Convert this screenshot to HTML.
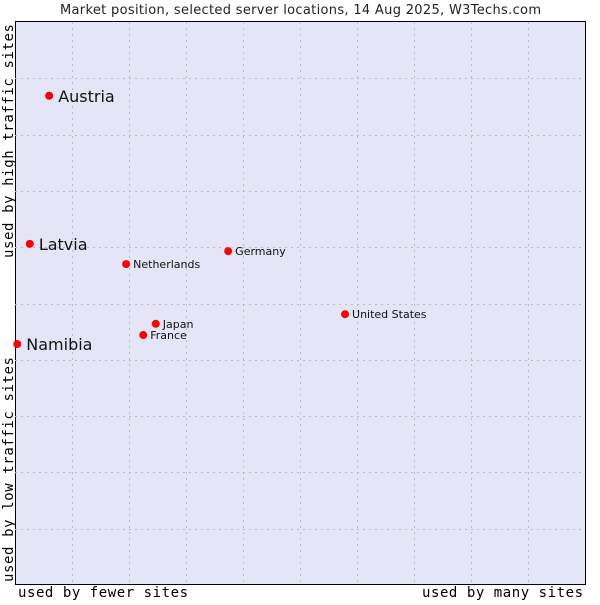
<!DOCTYPE html>
<html><head><meta charset="utf-8"><style>
body{margin:0;background:#fff;width:600px;height:600px;overflow:hidden}
svg{font-family:"DejaVu Sans","Liberation Sans",sans-serif}
</style></head><body>
<svg width="600" height="600">
<text x="60" y="14" textLength="481" font-size="13" fill="#222">Market position, selected server locations, 14 Aug 2025, W3Techs.com</text>
<rect x="15.5" y="21.5" width="570" height="563" fill="#e4e6f8" stroke="#000"/>
<g id="grid"></g>
<g id="pts"></g>
<text x="18" y="597" textLength="170" font-family="DejaVu Sans Mono,monospace" font-size="14">used by fewer sites</text>
<text x="422" y="597" textLength="161" font-family="DejaVu Sans Mono,monospace" font-size="14">used by many sites</text>
<text transform="translate(13,582) rotate(-90)" textLength="225" font-family="DejaVu Sans Mono,monospace" font-size="14">used by low traffic sites</text>
<text transform="translate(13,258) rotate(-90)" textLength="234" font-family="DejaVu Sans Mono,monospace" font-size="14">used by high traffic sites</text>
</svg>
<script>
const names=["Austria","Latvia","Namibia","Netherlands","Germany","United States","Japan","France"];
const xs=[0.6,0.26,0.04,1.95,3.74,5.79,2.47,2.25];
const ys=[8.69,6.06,4.28,5.70,5.93,4.81,4.64,4.44];
const big=[true,true,true,false,false,false,false,false];
const X0=15,X1=585,Y0=585,Y1=22;
const sx=v=>X0+v/10*(X1-X0), sy=v=>Y0-v/10*(Y0-Y1);
const NS="http://www.w3.org/2000/svg";
const g=document.getElementById('grid');
for(let i=1;i<10;i++){
 let l=document.createElementNS(NS,'line');
 
 
 let x=Math.round(sx(i))+0.5;
 l.setAttribute('x1',x);l.setAttribute('x2',x);l.setAttribute('y1',Y1);l.setAttribute('y2',Y0);
 l.setAttribute('stroke','#bdbdbd');l.setAttribute('stroke-dasharray','2,4');g.appendChild(l);
 let h=document.createElementNS(NS,'line');
 
 
 let y=Math.round(sy(i))+0.5;
 h.setAttribute('y1',y);h.setAttribute('y2',y);h.setAttribute('x1',X0);h.setAttribute('x2',X1);
 h.setAttribute('stroke','#bdbdbd');h.setAttribute('stroke-dasharray','2,4');g.appendChild(h);
}
const p=document.getElementById('pts');
names.forEach((n,i)=>{
 const x=sx(xs[i]),y=sy(ys[i]);
 let c=document.createElementNS(NS,'circle');
 
 
 c.setAttribute('cx',x);c.setAttribute('cy',y);c.setAttribute('r',4);c.setAttribute('fill','#f00');
 p.appendChild(c);
 let t=document.createElementNS(NS,'text');
 
 
 t.setAttribute('x',x+(big[i]?9:7));t.setAttribute('y',y+(big[i]?6:4));
 t.setAttribute('font-size',big[i]?16:11);t.setAttribute('fill','#111');
 t.textContent=n;p.appendChild(t);
});
</script>
</body></html>
